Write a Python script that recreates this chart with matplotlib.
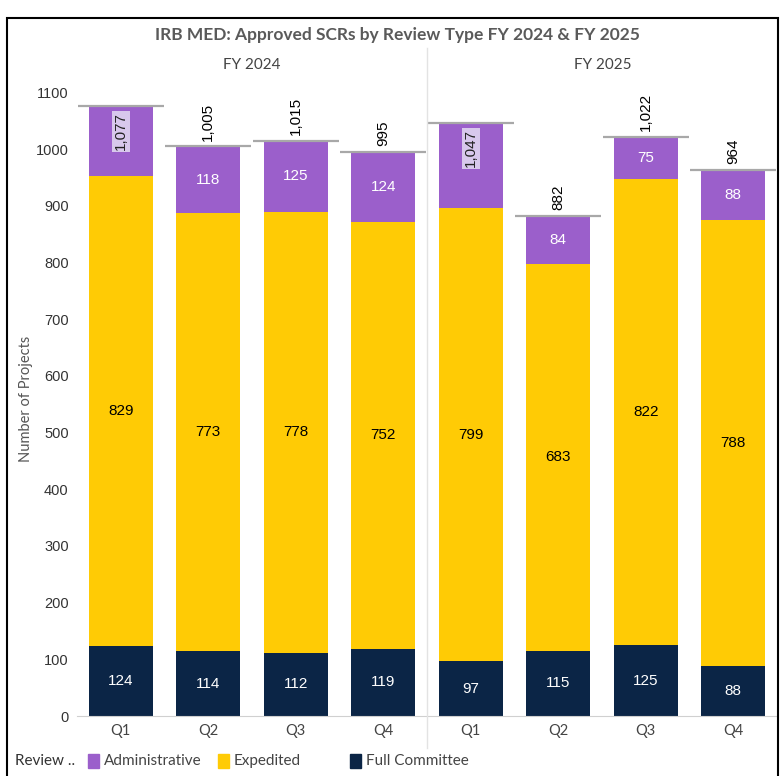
import matplotlib.pyplot as plt
from matplotlib.patches import Rectangle

# Data
years = ["FY 2024", "FY 2025"]
quarters = ["Q1", "Q2", "Q3", "Q4", "Q1", "Q2", "Q3", "Q4"]
full_committee = [124, 114, 112, 119, 97, 115, 125, 88]
expedited = [829, 773, 778, 752, 799, 683, 822, 788]
administrative = [124, 118, 125, 124, 151, 84, 75, 88]
totals = [1077, 1005, 1015, 995, 1047, 882, 1022, 964]

c_admin = "#9B5FCB"
c_exp = "#FFCB05"
c_full = "#0B2546"

fig = plt.figure(figsize=(7.81, 7.76), dpi=100)
ax = fig.add_axes([77 / 781, 0.0773, 700 / 781, 0.818])

x = list(range(len(quarters)))
w = 0.73
ax.bar(x, full_committee, w, color=c_full)
ax.bar(x, expedited, w, bottom=full_committee, color=c_exp)
bot2 = [a + b for a, b in zip(full_committee, expedited)]
ax.bar(x, administrative, w, bottom=bot2, color=c_admin)

lab_font = dict(family="Liberation Sans", fontsize=11)
for i in x:
    ax.text(i, full_committee[i] / 2, str(full_committee[i]), ha="center", va="center",
            color="white", **lab_font)
    ax.text(i, full_committee[i] + expedited[i] / 2, str(expedited[i]), ha="center",
            va="center", color="black", **lab_font)
    if quarters[i] != "Q1":
        ax.text(i, bot2[i] + administrative[i] / 2, str(administrative[i]), ha="center",
                va="center", color="white", **lab_font)
    # total line
    ax.plot([i - 0.49, i + 0.49], [totals[i], totals[i]], color="#A8A8A8", lw=1.6,
            solid_capstyle="butt", zorder=3)
    t = f"{totals[i]:,}"
    if quarters[i] == "Q1":
        ax.text(i, totals[i] - 12, t, rotation=90, ha="center", va="top", color="#222222",
                bbox=dict(boxstyle="square,pad=0.12", fc="#D8C8EC", ec="none"), zorder=4,
                **lab_font)
    else:
        ax.text(i, totals[i] + 10, t, rotation=90, ha="center", va="bottom", color="black",
                zorder=4, **lab_font)

ax.set_xlim(-0.5, 7.5)
ax.set_ylim(0, 1120)
ax.set_yticks(range(0, 1101, 100))
ax.set_yticklabels([str(v) for v in range(0, 1101, 100)], family="Liberation Sans",
                   fontsize=10.5, color="#333333")
ax.set_xticks(x)
ax.set_xticklabels(quarters, family="Lato", fontsize=10.5, color="#444444")
ax.tick_params(length=0, pad=6)
for s in ["top", "right", "left"]:
    ax.spines[s].set_visible(False)
ax.spines["bottom"].set_color("#D0D0D0")
ax.set_ylabel("Number of Projects", family="Lato", fontsize=10.5, color="#555555",
              labelpad=2)

# panel separator
fig.add_artist(plt.Line2D([427 / 781, 427 / 781], [1 - 48 / 776, 1 - 748 / 776],
                          color="#E3E3E3", lw=1))

# headers
fig.text(397 / 781, 1 - 35 / 776, "IRB MED: Approved SCRs by Review Type FY 2024 & FY 2025",
         ha="center", va="center", family="Lato", fontsize=12.5, fontweight="bold",
         color="#5A5A5A")
fig.text(252 / 781, 1 - 65 / 776, years[0], ha="center", va="center", family="Lato",
         fontsize=11, color="#444444")
fig.text(603 / 781, 1 - 65 / 776, years[1], ha="center", va="center", family="Lato",
         fontsize=11, color="#444444")

# legend
ly = 1 - 761 / 776
fig.text(15 / 781, ly, "Review ..", ha="left", va="center", family="Lato", fontsize=11,
         color="#333333")
items = [(88, "Administrative", c_admin), (218, "Expedited", c_exp), (350, "Full Committee", c_full)]
for px, name, col in items:
    fig.add_artist(Rectangle((px / 781, ly - 7 / 776), 11 / 781, 14 / 776, color=col,
                             transform=fig.transFigure))
    fig.text((px + 16) / 781, ly, name, ha="left", va="center", family="Lato", fontsize=11,
             color="#444444")

# outer frame
fig.add_artist(Rectangle((7 / 781, -0.01), 771 / 781, 1 - 18 / 776 + 0.01, fill=False,
                         ec="black", lw=1.5, transform=fig.transFigure))

fig.savefig("out.png", dpi=100)
